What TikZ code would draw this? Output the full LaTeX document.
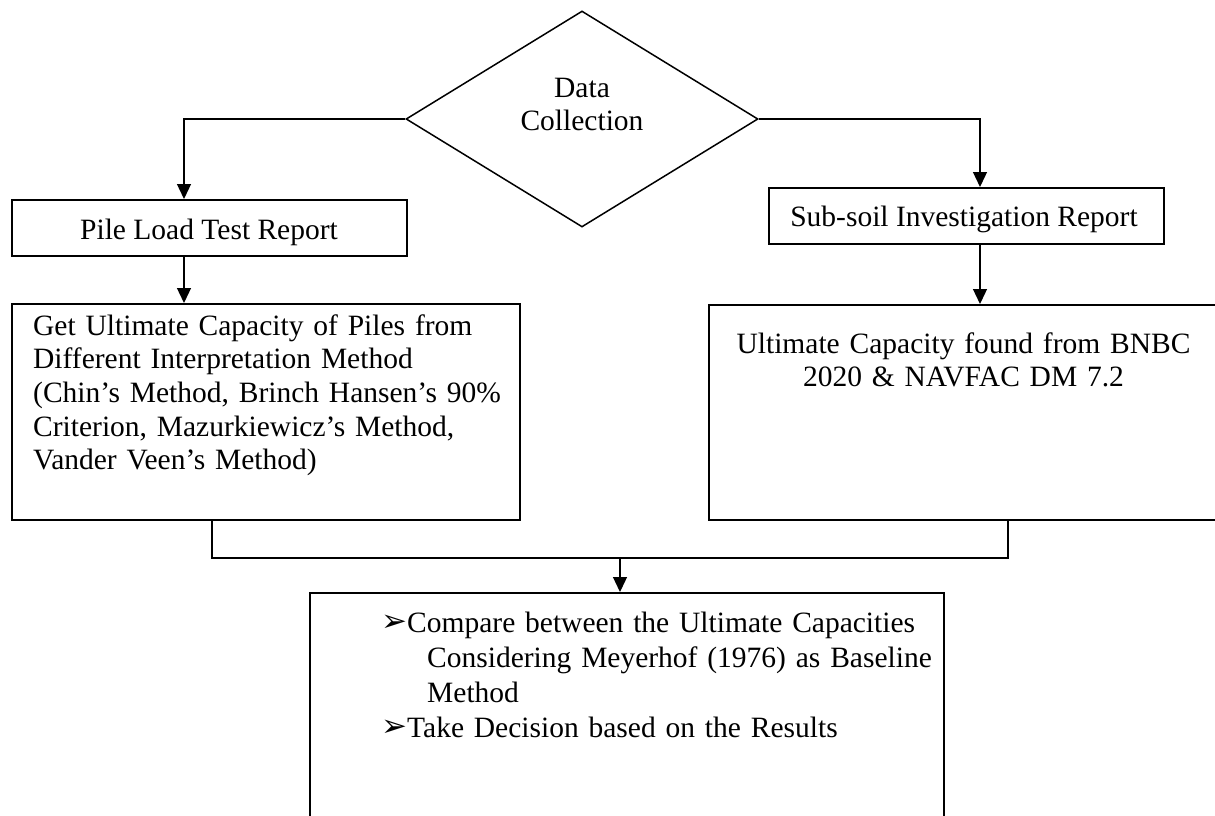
\documentclass[tikz,border=0pt]{standalone}
\usepackage{fontspec}
\setmainfont{Liberation Serif}
\newfontfamily\dejavu{DejaVu Sans}
\usetikzlibrary{arrows.meta,shapes.geometric}
\tikzset{
  box/.style={draw,line width=2pt,rectangle,inner sep=0pt},
  conn/.style={line width=1.3pt},
  arr/.style={conn,-{Triangle[width=14pt,length=15pt]}},
  txt/.style={inner sep=0pt,font=\fontsize{29.5}{33.7}\selectfont},
  bultxt/.style={inner sep=0pt,font=\fontsize{29.5}{35}\selectfont},
}
\newcommand{\bulmark}{\makebox[26pt][l]{\raisebox{1pt}{\dejavu\fontsize{31}{31}\selectfont ➢}}}
\begin{document}
\begin{tikzpicture}[x=1pt,y=-1pt]
\clip (0,0) rectangle (1215,816);
\fill[white] (0,0) rectangle (1215,816);

% shapes
\node[draw,line width=1.5pt,diamond,inner sep=0pt,minimum width=352pt,minimum height=216pt,aspect=1.63] (dia) at (582,119) {};
\node[box,minimum width=395pt,minimum height=56pt] (pile) at (209.5,228) {};
\node[box,minimum width=507.5pt,minimum height=216pt] (bigL) at (265.75,412) {};
\node[box,minimum width=395pt,minimum height=56pt] (sub) at (966.5,216) {};
\node[box,minimum width=520pt,minimum height=215pt] (bigR) at (969,412.5) {};
\node[box,minimum width=634pt,minimum height=260pt] (bot) at (627,723) {};

% texts
\node[txt,anchor=base,text width=200pt,align=center] (diat) at (582,97) {Data\\Collection};
\node[txt,anchor=base] (pilet) at (209,239) {Pile Load Test Report};
\node[txt,anchor=base west,text width=485pt,align=left] (bigLt) at (33,335) {Get Ultimate Capacity of Piles from\\Different Interpretation Method\\(Chin’s Method, Brinch Hansen’s 90\%\\Criterion, Mazurkiewicz’s Method,\\Vander Veen’s Method)};
\node[txt,anchor=base] (subt) at (964,226) {Sub-soil Investigation Report};
\node[txt,anchor=base,text width=500pt,align=center] (bigRt) at (963.5,353) {Ultimate Capacity found from BNBC\\2020 \& NAVFAC DM 7.2};
\node[bultxt,anchor=base west,text width=560pt,align=left] (bott) at (381,632) {\bulmark Compare between the Ultimate Capacities\\\hspace*{46pt}Considering Meyerhof (1976) as Baseline\\\hspace*{46pt}Method\\\bulmark Take Decision based on the Results};

% connectors
\coordinate (cL) at (184,119);
\coordinate (cR) at (980,119);
\coordinate (mL) at (212,558);
\coordinate (mR) at (1008,558);
\coordinate (mC) at (620,558);
\draw[arr] (dia.west) -- (cL) -- (pile.north -| cL);
\draw[arr] (dia.east) -- (cR) -- (sub.north -| cR);
\draw[arr] (pile.south -| cL) -- (bigL.north -| cL);
\draw[arr] (sub.south -| cR) -- (bigR.north -| cR);
\draw[conn] (bigL.south -| mL) -- (mL) -- (mR) -- (bigR.south -| mR);
\draw[arr] (mC) -- (bot.north -| mC);
\end{tikzpicture}
\end{document}
